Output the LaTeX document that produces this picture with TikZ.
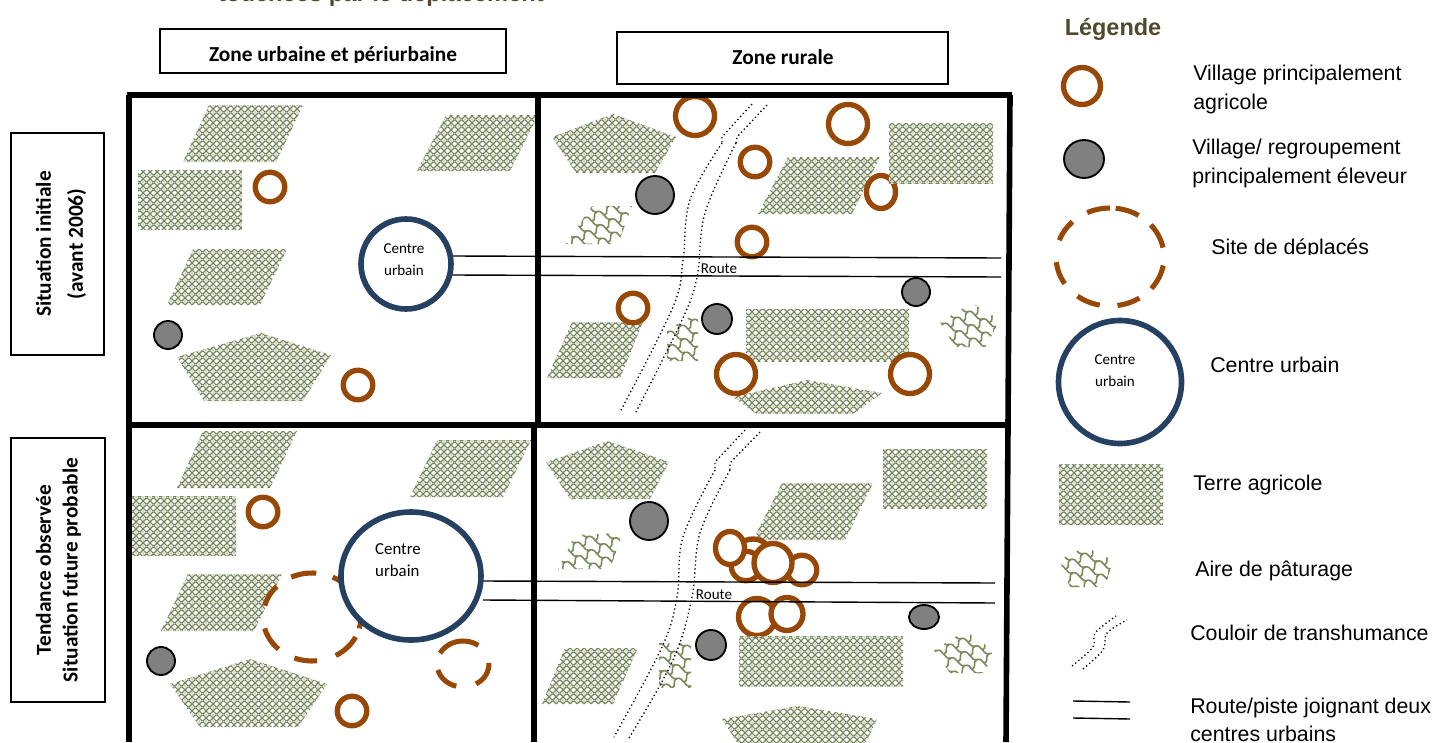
\documentclass[tikz,border=0pt]{standalone}
\usepackage{fontspec}
\setmainfont{Liberation Sans}
\newfontfamily\carlito{Carlito}
\usetikzlibrary{patterns,shapes.geometric}
\definecolor{vbrown}{HTML}{974706}
\definecolor{cblue}{HTML}{254061}
\definecolor{agriline}{HTML}{75855A}
\definecolor{agritint}{HTML}{C4CCB0}
\definecolor{past}{HTML}{7A8A5A}
\definecolor{vgrey}{HTML}{808080}
\definecolor{titlec}{HTML}{4F4A2B}
\pgfdeclarepatterninherentlycolored{agrihatch}{\pgfqpoint{0pt}{0pt}}{\pgfqpoint{5.25pt}{5.25pt}}{\pgfqpoint{5.25pt}{5.25pt}}{%
  \pgfsetfillcolor{white}%
  \pgfpathrectangle{\pgfqpoint{0pt}{0pt}}{\pgfqpoint{5.25pt}{5.25pt}}\pgfusepath{fill}%
  \pgfsetfillcolor{agritint}%
  \pgfpathmoveto{\pgfqpoint{2.625pt}{-0.9pt}}\pgfpathlineto{\pgfqpoint{3.5pt}{0pt}}\pgfpathlineto{\pgfqpoint{2.625pt}{0.9pt}}\pgfpathlineto{\pgfqpoint{1.75pt}{0pt}}\pgfpathclose\pgfusepath{fill}%
  \pgfpathmoveto{\pgfqpoint{2.625pt}{4.35pt}}\pgfpathlineto{\pgfqpoint{3.5pt}{5.25pt}}\pgfpathlineto{\pgfqpoint{2.625pt}{6.15pt}}\pgfpathlineto{\pgfqpoint{1.75pt}{5.25pt}}\pgfpathclose\pgfusepath{fill}%
  \pgfsetstrokecolor{agriline}%
  \pgfsetlinewidth{0.95pt}%
  \pgfpathmoveto{\pgfqpoint{-0.5pt}{-0.5pt}}\pgfpathlineto{\pgfqpoint{5.75pt}{5.75pt}}%
  \pgfpathmoveto{\pgfqpoint{-0.5pt}{5.75pt}}\pgfpathlineto{\pgfqpoint{5.75pt}{-0.5pt}}%
  \pgfusepath{stroke}%
}
\tikzset{
  ringv/.style 2 args={ellipse,draw=vbrown,fill=white,line width=4pt,inner sep=0pt,minimum width=#1*0.75pt,minimum height=#2*0.75pt},
  greyv/.style 2 args={ellipse,draw=black,fill=vgrey,line width=1.4pt,inner sep=0pt,minimum width=#1*0.75pt,minimum height=#2*0.75pt},
  urbanv/.style 2 args={ellipse,draw=cblue,fill=white,line width=4.2pt,inner sep=0pt,minimum width=#1*0.75pt,minimum height=#2*0.75pt},
  agriland/.style={pattern=agrihatch},
  frameline/.style={line width=4.2pt,black},
  labelbox/.style={draw=black,line width=1.2pt,fill=white},
  road/.style={line width=1.05pt,black},
  corridor/.style={line width=1pt,black,dash pattern=on 0.95pt off 2.1pt},
  legtext/.style={anchor=west,inner sep=0pt,align=left,font=\fontsize{16}{21.4}\selectfont},
  smalltext/.style={inner sep=0pt,align=left,font=\carlito\fontsize{11.3}{16.5}\selectfont},
  headtext/.style={inner sep=0pt,align=center,font=\carlito\bfseries\fontsize{16}{20}\selectfont},
  dasharc/.style={draw=vbrown,line width=3.8pt}
}
% #1 clip path, #2 #3 centre
\newcommand{\pasture}[3]{%
  \begin{scope}
    \clip #1;
    \begin{scope}[shift={(#2,#3)},rotate=-28]
      \foreach \j in {-4,...,4}{
        \foreach \i in {-5,...,4}{
          \pgfmathsetmacro{\xa}{\i*16+mod(\j+8,2)*8}
          \pgfmathsetmacro{\xb}{\xa+16}
          \pgfmathsetmacro{\xc}{\xa+5}
          \pgfmathsetmacro{\xd}{\xa+11}
          \pgfmathsetmacro{\ya}{\j*11}
          \pgfmathsetmacro{\yb}{\j*11+11}
          \pgfmathsetmacro{\yc}{\j*11-5}
          \pgfmathsetmacro{\yd}{\j*11+5}
          \pgfmathsetmacro{\ye}{\j*11+4}
          \pgfmathsetmacro{\xe}{\xa-4}
          \pgfmathsetmacro{\xf}{\xa+4}
          \pgfmathsetmacro{\yf}{\j*11+7}
          \draw[past,line width=1.2pt] (\xa,\ya) .. controls (\xc,\yc) and (\xd,\yd) .. (\xb,\ya);
          \draw[past,line width=1.2pt] (\xa,\ya) .. controls (\xe,\ye) and (\xf,\yf) .. (\xa,\yb);
        }
      }
    \end{scope}
  \end{scope}}
% dashed ring made of arcs: centre x, y, radii x, y, list of start/end angles
\newcommand{\dashring}[5]{%
  \foreach \aa/\bb in {#5}{
    \draw[dasharc] ({#1+#3*cos(\aa)},{#2-#4*sin(\aa)}) arc[start angle=-\aa,end angle=-\bb,x radius=#3,y radius=#4];
  }}
\begin{document}
\begin{tikzpicture}[x=0.75pt,y=-0.75pt]
\useasboundingbox (0,0) rectangle (1434,742);
\fill[white] (0,0) rectangle (1434,742);
\clip (0,0) rectangle (1434,742);

% cut title
\node[inner sep=0pt,text=titlec,font=\bfseries\fontsize{17.8}{20}\selectfont] (title) at (381,-5) {touchées par le déplacement};

% header boxes
\draw[labelbox] (160,29) rectangle (506,73);
\begin{scope}
  \clip (160,30) rectangle (506,62.5);
  \node[headtext] (zu) at (333,55.5) {Zone urbaine et périurbaine};
\end{scope}
\node[labelbox,minimum width=331*0.75pt,minimum height=52*0.75pt,inner sep=0pt] (zr) at (782.5,58) {};
\node[headtext] (zrt) at (783,57) {Zone rurale};
\node[labelbox,minimum width=93*0.75pt,minimum height=222*0.75pt,inner sep=0pt] (si) at (57.5,244) {};
\node[headtext,rotate=90,font=\carlito\bfseries\fontsize{16}{24}\selectfont] (sit) at (61,244) {Situation initiale\\(avant 2006)};
\node[labelbox,minimum width=94*0.75pt,minimum height=264*0.75pt,inner sep=0pt] (st) at (58,570) {};
\node[headtext,rotate=90] (stt) at (58.5,570) {Tendance observée\\Situation future probable};

% ---------- top left
\fill[agriland] (183,162)--(209,105)--(303,105)--(276,162)--cycle;
\fill[agriland] (417,171)--(446,115)--(538,115)--(510,171)--cycle;
\fill[agriland] (138,170) rectangle (242,229);
\node[ringv={29.5}{29.5}] (t1) at (270,187) {};
\fill[agriland] (167,305)--(193,249)--(287,249)--(260,305)--cycle;
\node[greyv={28}{28}] (g1) at (168,335) {};
\fill[agriland] (177,357)--(261,333)--(331,355)--(303,401)--(204,401)--cycle;
\node[ringv={29.5}{29.5}] (t2) at (358,385) {};

% ---------- top right
\fill[agriland] (552,137)--(613,114)--(676,137)--(655,173)--(576,173)--cycle;
\node[ringv={39}{39}] (t3) at (695,116) {};
\node[ringv={39}{39}] (t4) at (848,124) {};
\node[ringv={29.5}{29.5}] (t5) at (755,162) {};
\fill[agriland] (758,214)--(788,157)--(880,157)--(852,214)--cycle;
\node[ringv={29}{33}] (t6) at (881,192) {};
\fill[agriland] (889,123) rectangle (993,183);
\node[greyv={38}{38}] (g2) at (655,195) {};
\pasture{(566,244)--(592,206)--(632,206)--(618,244)--cycle}{599}{225}
\node[ringv={29.5}{29.5}] (t7) at (752,242) {};
\fill[agriland] (547,378)--(572,322)--(643,322)--(620,378)--cycle;
\node[ringv={29.5}{29.5}] (t8) at (633,308) {};
\pasture{(667,330)--(690,317)--(698,317)--(698,361)--(667,361)--cycle}{683}{339}
\node[greyv={30}{30}] (g3) at (717,319) {};
\fill[agriland] (746,309) rectangle (909,361);
\node[greyv={28}{28}] (g4) at (916,292) {};
\pasture{(940,322)--(972,303)--(1000,320)--(985,347)--(955,347)--cycle}{970}{325}
\fill[agriland] (733,397)--(807,380)--(882,393)--(853,414)--(757,414)--cycle;
\node[ringv={39}{39}] (t9) at (736,374) {};
\node[ringv={39}{39}] (t10) at (910,374) {};
% corridor
\draw[corridor] (752,104)--(722,137)--(722,143);
\draw[corridor] plot[smooth,tension=.6] coordinates {(722,143)(690,200)(683,260)(673,307)(620,412)};
\draw[corridor] (767,105)--(737,137)--(736,143);
\draw[corridor] plot[smooth,tension=.6] coordinates {(736,143)(705,213)(697,277)(682,320)(636,412)};

% ---------- bottom left
\fill[agriland] (177,488)--(203,431)--(297,431)--(270,488)--cycle;
\fill[agriland] (410,497)--(437,440)--(531,440)--(503,497)--cycle;
\fill[agriland] (132,496) rectangle (236,555);
\node[ringv={29.5}{29.5}] (b1) at (263,512) {};
\fill[agriland] (161,631)--(188,574)--(282,574)--(254,631)--cycle;
\node[greyv={28}{28}] (g5) at (161,661) {};
\fill[agriland] (170,684)--(250,659)--(327,684)--(298,727)--(200,727)--cycle;
\node[ringv={29.5}{29.5}] (b2) at (352,711) {};
\dashring{312}{617}{49}{44}{-15/15,40/65,85/115,136/165,195/227,249/276,299/333}
\dashring{463}{664}{26}{23}{54/152,-60/3,195/255}

% ---------- bottom right
\fill[agriland] (546,462)--(608,441)--(669,462)--(650,499)--(570,499)--cycle;
\fill[agriland] (883,449) rectangle (987,508);
\fill[agriland] (753,540)--(782,483)--(873,483)--(845,540)--cycle;
\node[greyv={38}{38}] (g6) at (649,521) {};
\pasture{(558,569)--(575,535)--(623,533)--(610,569)--cycle}{590}{550}
\node[ringv={38}{36}] (b3) at (753,557) {};
\node[ringv={29.5}{29.5}] (b4) at (802,570) {};
\node[ringv={29.5}{29.5}] (b5) at (746,566) {};
\node[ringv={38}{39}] (b6) at (773,563) {};
\node[ringv={29}{33}] (b7) at (730,548) {};
\node[ringv={37}{37}] (b8) at (757,617) {};
\node[ringv={32}{33}] (b9) at (787,614) {};
\pasture{(659,643) rectangle (691,687)}{675}{665}
\node[greyv={30}{30}] (g7) at (711,645) {};
\fill[agriland] (739,636) rectangle (903,686);
\fill[agriland] (542,704)--(565,648)--(638,648)--(613,704)--cycle;
\node[greyv={30}{24}] (g8) at (924,617) {};
\pasture{(934,650)--(965,631)--(993,650)--(985,673)--(950,673)--cycle}{963}{652}
\fill[agriland] (722,719)--(798,706)--(877,719)--(860,755)--(745,755)--cycle;
\draw[corridor] (745,430)--(715,462)--(715,470);
\draw[corridor] plot[smooth,tension=.6] coordinates {(715,470)(683,537)(677,597)(662,647)(614,737)};
\draw[corridor] (760,432)--(730,463)--(730,470);
\draw[corridor] plot[smooth,tension=.6] coordinates {(730,470)(700,533)(692,597)(673,660)(629,738)};

% roads
\coordinate (ra1) at (452,256); \coordinate (ra2) at (1001,258);
\coordinate (rb1) at (452,275); \coordinate (rb2) at (1001,277);
\coordinate (rc1) at (483,581); \coordinate (rc2) at (995,583);
\coordinate (rd1) at (483,600); \coordinate (rd2) at (995,603);
\draw[road] (ra1)--(ra2);
\draw[road] (rb1)--(rb2);
\draw[road] (rc1)--(rc2);
\draw[road] (rd1)--(rd2);
\node[smalltext] (rt1) at (719,269) {Route};
\node[smalltext] (rt2) at (714,595) {Route};

% urban centres
\node[urbanv={90}{90}] (cu1) at (406,264) {};
\node[smalltext,align=center] (cu1t) at (404,260) {Centre\\urbain};
\node[urbanv={140}{128}] (cu2) at (411,576) {};
\node[smalltext,font=\carlito\fontsize{12.6}{16.5}\selectfont] (cu2t) at (398,560) {Centre\\urbain};

% frame
\coordinate (f1) at (127,95); \coordinate (f2) at (1012,95);
\coordinate (f3) at (127,425); \coordinate (f4) at (1008,425);
\coordinate (f5) at (129,742); \coordinate (f6) at (1006,742);
\coordinate (f7) at (538,95); \coordinate (f8) at (538,425);
\coordinate (f9) at (534,742); \coordinate (f10) at (534,425);
\coordinate (f11) at (129,95); \coordinate (f12) at (1010,95);
\draw[frameline] (f1)--(f2);
\draw[frameline] (f3)--(f4);
\draw[frameline] (f11)--(f5);
\draw[frameline] (f12)--(f4)--(f6);
\draw[frameline] (f7)--(f8);
\draw[frameline] (f10)--(f9);

% ---------- legend
\node[inner sep=0pt,text=titlec,font=\bfseries\fontsize{17.6}{20}\selectfont] (leg) at (1113,29) {Légende};
\node[ringv={37}{37}] (l1) at (1082,86) {};
\node[legtext] (l1t) at (1193,89.5) {Village principalement\\agricole};
\node[greyv={40}{38}] (l2) at (1084,159) {};
\node[legtext] (l2t) at (1192,163.5) {Village/ regroupement\\principalement éleveur};
\dashring{1110}{257}{54}{49}{11/41,58/84,90/115,134/160,186/213,233/259,278/303,320/350}
\begin{scope}
  \clip (1200,230) rectangle (1380,254.5);
  \node[legtext] (l3t) at (1211,249) {Site de déplacés};
\end{scope}
\node[urbanv={123}{123}] (l4) at (1120,382) {};
\node[smalltext,align=center] (l4t) at (1115,371) {Centre\\urbain};
\node[legtext] (l5t) at (1210,365) {Centre urbain};
\fill[agriland] (1059,464) rectangle (1163,524);
\node[legtext] (l6t) at (1193,485) {Terre agricole};
\pasture{(1059,560)--(1085,547)--(1113,560)--(1105,587)--(1070,587)--cycle}{1085}{567}
\node[legtext] (l7t) at (1195,571) {Aire de pâturage};
\draw[corridor] plot[smooth,tension=.6] coordinates {(1072,666)(1093,647)(1095,633)(1116,616)};
\draw[corridor] plot[smooth,tension=.6] coordinates {(1083,669)(1103,650)(1107,633)(1127,620)};
\node[legtext] (l8t) at (1190,633) {Couloir de transhumance};
\coordinate (le1) at (1073,701); \coordinate (le2) at (1130,702);
\coordinate (le3) at (1073,718); \coordinate (le4) at (1130,719);
\draw[road] (le1)--(le2);
\draw[road] (le3)--(le4);
\node[legtext] (l9t) at (1190,720) {Route/piste joignant deux\\centres urbains};
\end{tikzpicture}
\end{document}
